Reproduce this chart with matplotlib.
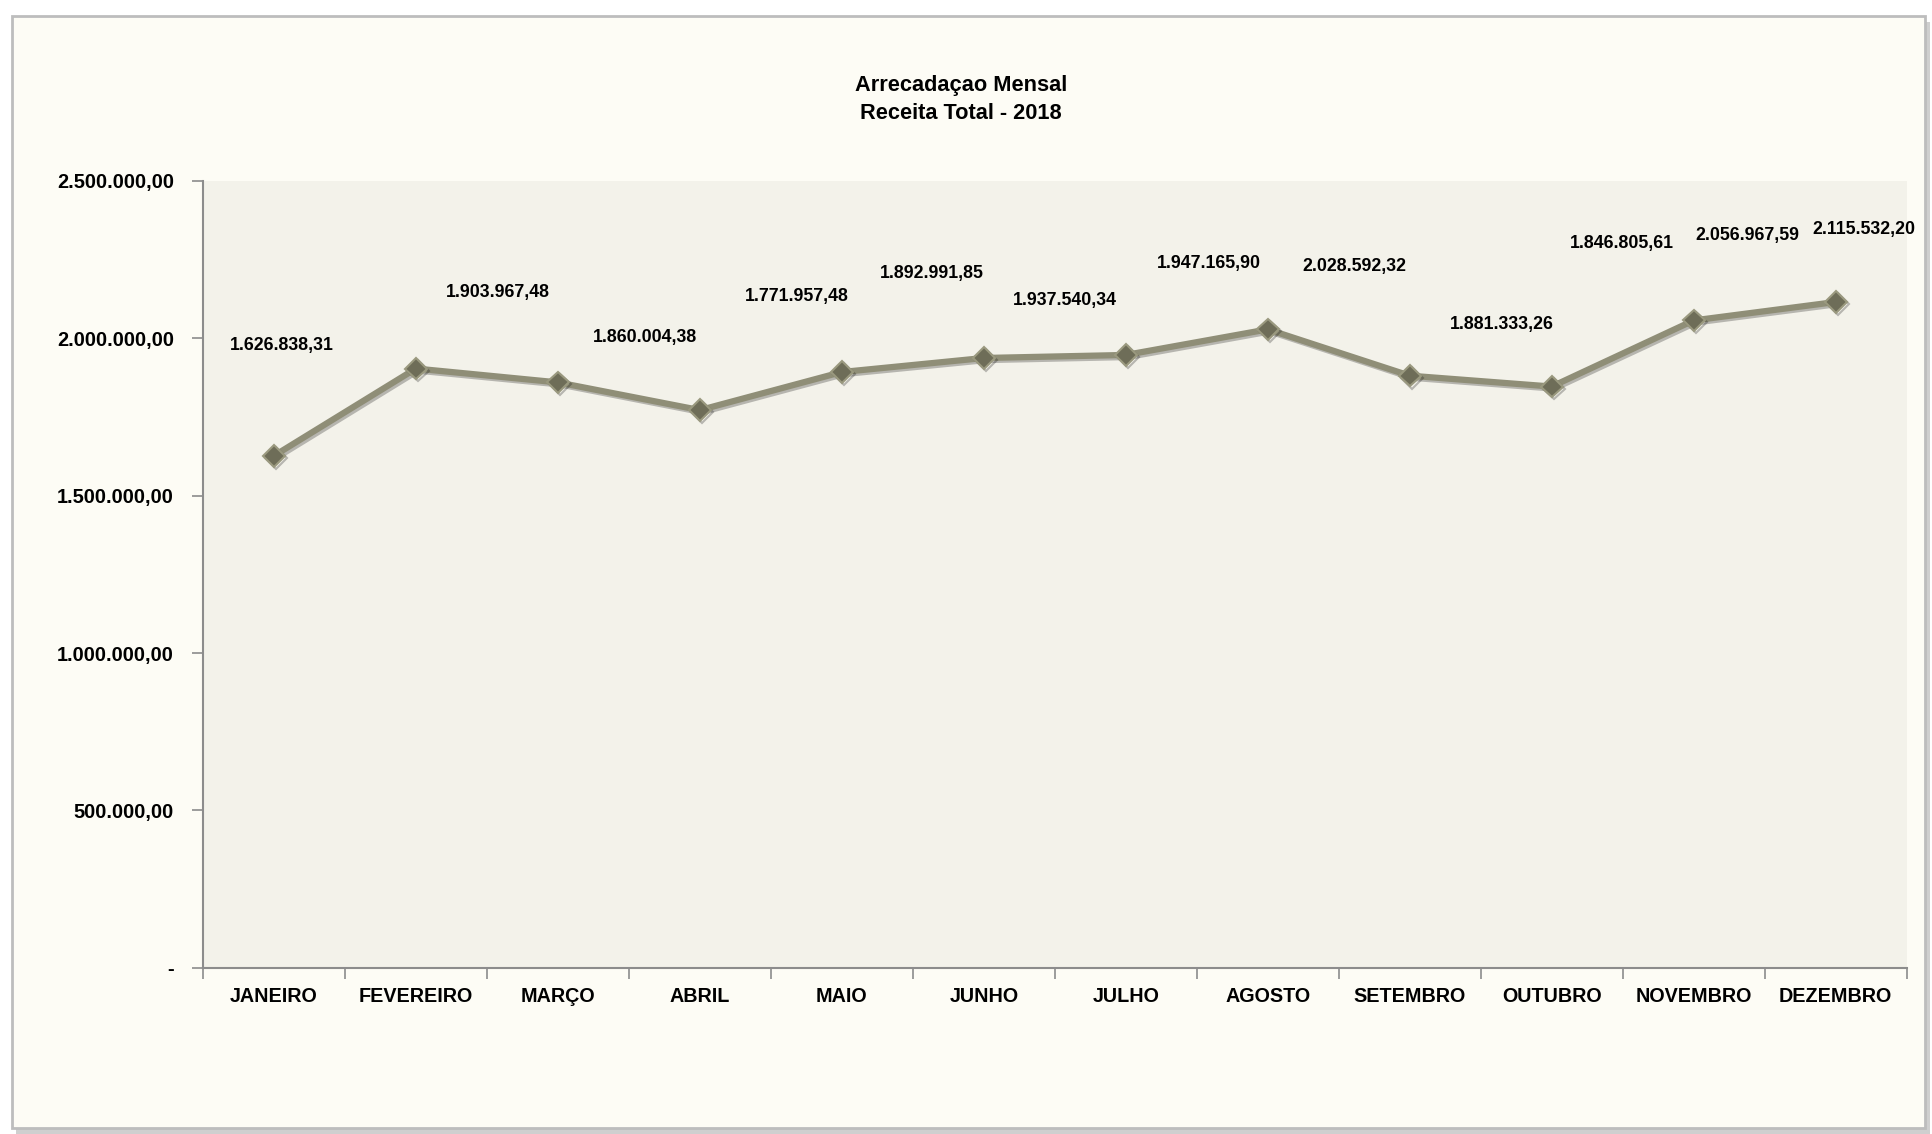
import numpy as np
import matplotlib
matplotlib.use("Agg")
import matplotlib.pyplot as plt
import matplotlib.patheffects as pe
from matplotlib.patches import Rectangle

plt.rcParams['font.family'] = ['Liberation Sans Narrow', 'Liberation Sans', 'DejaVu Sans']
plt.rcParams['font.weight'] = 'bold'

meses = ["JANEIRO", "FEVEREIRO", "MARÇO", "ABRIL", "MAIO", "JUNHO", "JULHO",
         "AGOSTO", "SETEMBRO", "OUTUBRO", "NOVEMBRO", "DEZEMBRO"]
receita = [1626838.31, 1903967.48, 1860004.38, 1771957.48, 1892991.85, 1937540.34,
           1947165.90, 2028592.32, 1881333.26, 1846805.61, 2056967.59, 2115532.20]
y_ticks = [0, 500000, 1000000, 1500000, 2000000, 2500000]

# deslocamento dos rotulos (pontos), como no grafico original
rot_dx = [5.7, 58.8, 63.0, 69.9, 64.4, 58.0, 59.6, 62.1, 66.4, 50.2, 38.5, 20.6]
rot_dy = [79.7, 55.1, 32.2, 81.5, 70.9, 41.3, 65.8, 45.5, 37.2, 102.7, 61.3, 52.5]


def fmt_br(v):
    if v == 0:
        return "-"
    s = f"{v:,.2f}"
    return s.replace(",", "X").replace(".", ",").replace("X", ".")


fig = plt.figure(figsize=(19.33, 11.34), dpi=100)
fig.patch.set_facecolor("white")

# cartao de fundo com sombra
fig.patches.append(Rectangle((0.0085, 0.0), 0.99, 0.981, transform=fig.transFigure,
                             facecolor="#cfcfcf", edgecolor="none", zorder=0))
fig.patches.append(Rectangle((0.0062, 0.0053), 0.9897, 0.9807, transform=fig.transFigure,
                             facecolor="#FDFCF5", edgecolor="#bdbdbd", linewidth=2.0, zorder=1))

ax = fig.add_axes([0.105, 0.1466, 0.8814, 0.6938])
ax.set_facecolor("#F3F2EA")
ax.set_zorder(2)

x = np.arange(len(meses))
ax.plot(x, receita, color="#8F8E77", linewidth=4.5, marker="D", markersize=11,
        markerfacecolor="#6E6D58", markeredgecolor="#9A997F", markeredgewidth=1.5,
        path_effects=[pe.SimpleLineShadow(offset=(1.5, -1.5), alpha=0.25), pe.Normal()])

for i, v in enumerate(receita):
    ax.annotate(fmt_br(v), (x[i], v), xytext=(rot_dx[i], rot_dy[i]),
                textcoords="offset points", ha="center", va="center",
                fontsize=12.8, fontweight="bold", color="black")

ax.set_xlim(-0.5, len(meses) - 0.5)
ax.set_ylim(0, 2500000)
ax.set_yticks(y_ticks)
ax.set_yticklabels([fmt_br(v) for v in y_ticks])
ax.set_xticks(x)
ax.set_xticklabels(meses)
ax.set_xticks(np.arange(-0.5, len(meses), 1.0), minor=True)
ax.tick_params(axis="x", which="major", length=0, pad=14, labelsize=14.2)
ax.tick_params(axis="x", which="minor", length=8, width=1.2, color="#8c8c8c", direction="out")
ax.tick_params(axis="y", which="major", length=8, width=1.2, color="#8c8c8c", pad=13, labelsize=14.4)

for s in ["top", "right"]:
    ax.spines[s].set_visible(False)
for s in ["left", "bottom"]:
    ax.spines[s].set_color("#8c8c8c")
    ax.spines[s].set_linewidth(1.5)

fig.text(0.497, 0.925, "Arrecadaçao Mensal", ha="center", va="center",
         fontsize=15.7, fontweight="bold")
fig.text(0.497, 0.9, "Receita Total - 2018", ha="center", va="center",
         fontsize=15.7, fontweight="bold")

fig.savefig("out.png", dpi=100, facecolor=fig.get_facecolor())
